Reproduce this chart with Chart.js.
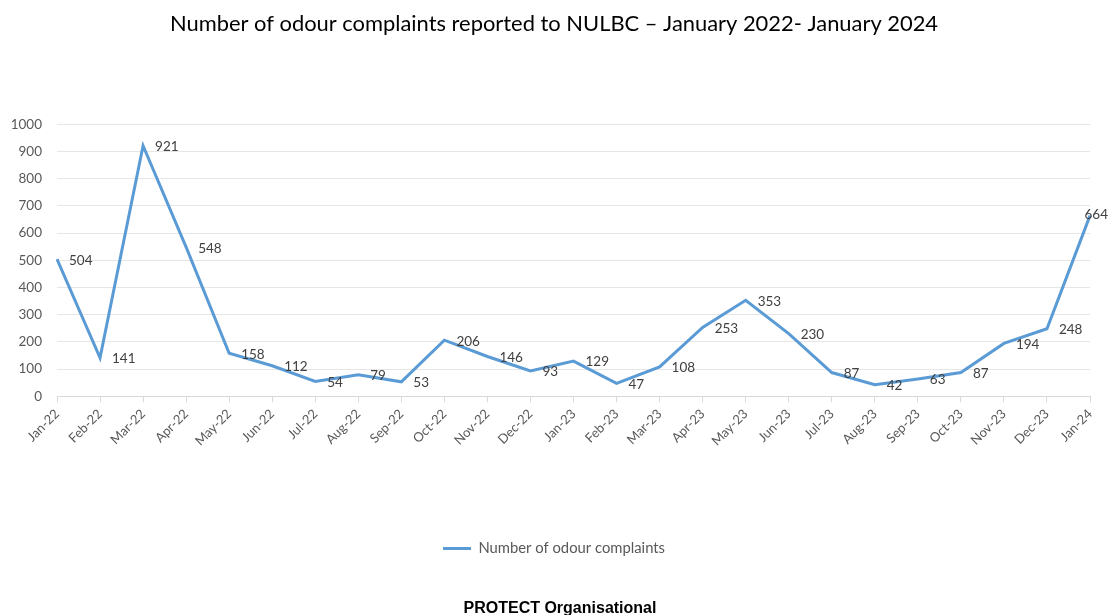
<!DOCTYPE html>
<html>
<head>
<meta charset="utf-8">
<script src="https://cdn.jsdelivr.net/npm/chart.js@4.4.1/dist/chart.umd.min.js"></script>
<style>
  html, body { margin: 0; padding: 0; background: #fff; }
  #wrap { position: relative; width: 1108px; height: 615px; }
  #foot { position: absolute; left: 6px; width: 1108px; top: 599px; text-align: center;
          font-family: "Liberation Sans", Arial, sans-serif; font-weight: bold; font-size: 16px; line-height: 18px; color: #000; }
</style>
</head>
<body>
<div id="wrap">
  <canvas id="c" width="1108" height="615"></canvas>
  <div id="foot">PROTECT Organisational</div>
</div>
<script>
const categories = ["Jan-22","Feb-22","Mar-22","Apr-22","May-22","Jun-22","Jul-22","Aug-22","Sep-22","Oct-22","Nov-22","Dec-22",
  "Jan-23","Feb-23","Mar-23","Apr-23","May-23","Jun-23","Jul-23","Aug-23","Sep-23","Oct-23","Nov-23","Dec-23","Jan-24"];
const complaints = [504,141,921,548,158,112,54,79,53,206,146,93,129,47,108,253,353,230,87,42,63,87,194,248,664];
const seriesName = "Number of odour complaints";
const titleText = "Number of odour complaints reported to NULBC \u2013 January 2022- January 2024";
const yMin = 0, yMax = 1000, yStep = 100;

const FONT = "Lato, 'Open Sans', sans-serif";

const dataLabels = {
  id: 'dataLabels',
  afterDatasetsDraw(chart) {
    const ctx = chart.ctx;
    const meta = chart.getDatasetMeta(0);
    ctx.save();
    ctx.font = "13.5px " + FONT;
    ctx.fillStyle = "#404040";
    ctx.textBaseline = "middle";
    ctx.textAlign = "left";
    meta.data.forEach((pt, i) => {
      const txt = String(chart.data.datasets[0].data[i]);
      const w = ctx.measureText(txt).width;
      let x = pt.x + 12;
      let y = pt.y + 1;
      if (x + w > chart.width) { x = chart.width - w; y = pt.y - 1; }
      ctx.fillText(txt, x, y);
    });
    ctx.restore();
  }
};

new Chart(document.getElementById('c'), {
  type: 'line',
  data: {
    labels: categories,
    datasets: [{
      label: seriesName,
      data: complaints,
      borderColor: '#5b9bd5',
      backgroundColor: '#5b9bd5',
      borderWidth: 3,
      pointRadius: 0,
      pointHoverRadius: 0,
      tension: 0,
      fill: false
    }]
  },
  options: {
    responsive: false,
    animation: false,
    layout: { padding: { left: 0, right: 0, top: 0, bottom: 49 } },
    plugins: {
      title: {
        display: true,
        text: titleText,
        color: '#000',
        font: { family: FONT, size: 21.9, weight: 'normal' },
        padding: { top: 11, bottom: 87 }
      },
      legend: {
        position: 'bottom',
        labels: {
          usePointStyle: true,
          pointStyle: 'line',
          pointStyleWidth: 28,
          color: '#595959',
          font: { family: FONT, size: 14.8 },
          padding: 10
        }
      },
      tooltip: { enabled: false }
    },
    scales: {
      x: {
        offset: false,
        grid: { drawOnChartArea: false, drawTicks: true, tickLength: 6, color: '#d9d9d9' },
        border: { display: true, color: '#d9d9d9', width: 1 },
        ticks: { color: '#595959', font: { family: FONT, size: 13 }, maxRotation: 45, minRotation: 45, autoSkip: false, padding: 4 },
        afterFit(s) { s.height = 135; }
      },
      y: {
        min: yMin, max: yMax,
        grid: { color: '#e6e6e6', drawTicks: false },
        border: { display: false },
        ticks: { stepSize: yStep, color: '#595959', font: { family: FONT, size: 13.5 }, padding: 15,
                 callback: (v) => String(v) },
        afterFit(s) { s.width = 57; }
      },
      yRight: {
        position: 'right',
        min: yMin, max: yMax,
        grid: { display: false },
        border: { display: false },
        ticks: { display: false },
        afterFit(s) { s.width = 18; }
      }
    }
  },
  plugins: [dataLabels]
});
</script>
</body>
</html>
